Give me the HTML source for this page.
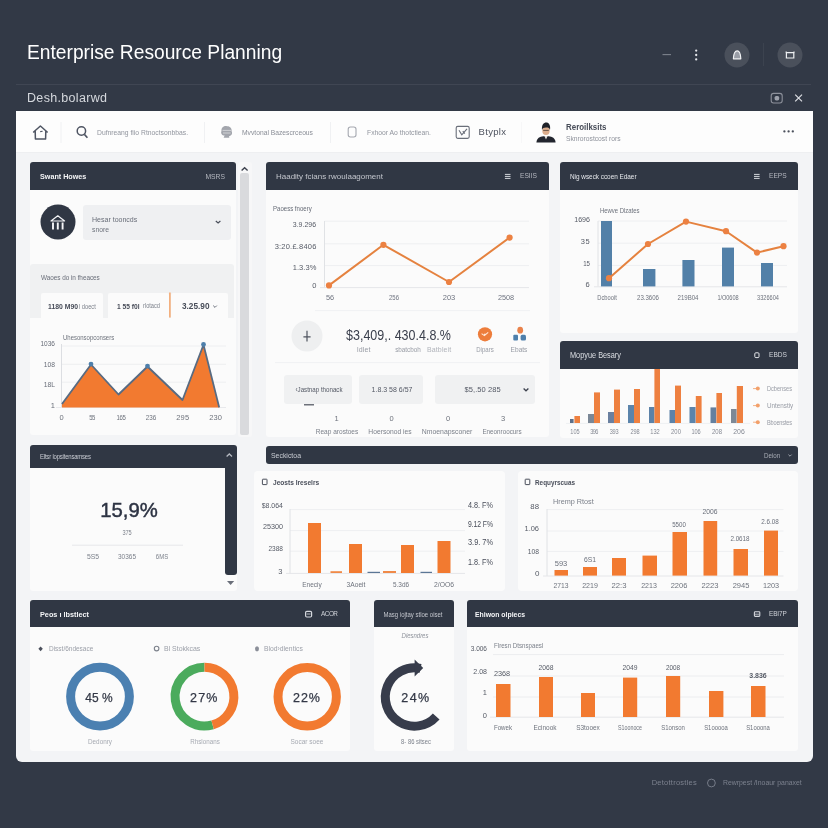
<!DOCTYPE html>
<html lang="en">
<head>
<meta charset="utf-8">
<title>Enterprise Resource Planning</title>
<style>
*{margin:0;padding:0;box-sizing:border-box}
html,body{width:828px;height:828px;overflow:hidden}
body{background:#323946;font-family:"Liberation Sans",sans-serif;position:relative}
.b{position:absolute}
.t{position:absolute;white-space:nowrap}
svg.g{position:absolute;left:0;top:0;width:828px;height:828px;overflow:visible}
</style>
</head>
<body>
<div class="b" style="left:16px;top:83.5px;width:795px;height:1.0px;background:rgba(255,255,255,0.07);border-radius:0;"></div>
<div class="b" style="left:16px;top:111px;width:797px;height:651.3px;background:#f3f4f6;border-radius:0 0 6px 6px;"></div>
<div class="b" style="left:16px;top:111px;width:797px;height:41.5px;background:#fdfdfd;border-radius:0;border-bottom:1px solid #eeeff1;"></div>
<div class="b" style="left:30px;top:162px;width:206.2px;height:273px;background:#fbfbfb;border-radius:3px;"></div>
<div class="b" style="left:30px;top:162px;width:206.2px;height:28px;background:#303744;border-radius:3px 3px 0 0;"></div>
<div class="b" style="left:83px;top:204.5px;width:147.5px;height:35.0px;background:#eff0f2;border-radius:3px;"></div>
<div class="b" style="left:30px;top:264px;width:203.5px;height:54px;background:#f0f1f2;border-radius:3px 3px 0 0;"></div>
<div class="b" style="left:41px;top:292.5px;width:62px;height:25.5px;background:#fbfbfb;border-radius:2px 2px 0 0;"></div>
<div class="b" style="left:108px;top:292.5px;width:61px;height:25.5px;background:#fbfbfb;border-radius:2px 2px 0 0;"></div>
<div class="b" style="left:171px;top:292.5px;width:56.5px;height:25.5px;background:#fbfbfb;border-radius:2px 2px 0 0;"></div>
<div class="b" style="left:237.5px;top:162px;width:14.0px;height:275px;background:#f7f7f8;border-radius:3px;"></div>
<div class="b" style="left:239.6px;top:173px;width:9.6px;height:262px;background:#d9dadd;border-radius:2px;"></div>
<div class="b" style="left:266px;top:162px;width:282.5px;height:275px;background:#fbfbfb;border-radius:3px;"></div>
<div class="b" style="left:266px;top:162px;width:282.5px;height:28px;background:#303744;border-radius:3px 3px 0 0;"></div>
<div class="b" style="left:284px;top:374.5px;width:68px;height:29.5px;background:#f0f1f2;border-radius:3px;"></div>
<div class="b" style="left:359px;top:374.5px;width:63.5px;height:29.5px;background:#f0f1f2;border-radius:3px;"></div>
<div class="b" style="left:434.5px;top:374.5px;width:100.5px;height:29.5px;background:#f0f1f2;border-radius:3px;"></div>
<div class="b" style="left:560px;top:162px;width:238px;height:170.5px;background:#fbfbfb;border-radius:3px;"></div>
<div class="b" style="left:560px;top:162px;width:238px;height:28px;background:#303744;border-radius:3px 3px 0 0;"></div>
<div class="b" style="left:560px;top:341px;width:238px;height:96.5px;background:#fbfbfb;border-radius:3px;"></div>
<div class="b" style="left:560px;top:341px;width:238px;height:28px;background:#303744;border-radius:3px 3px 0 0;"></div>
<div class="b" style="left:30px;top:444.5px;width:206.5px;height:146.5px;background:#fbfbfb;border-radius:3px;"></div>
<div class="b" style="left:30px;top:444.5px;width:206.5px;height:23.0px;background:#303744;border-radius:3px 3px 0 0;"></div>
<div class="b" style="left:225px;top:460px;width:11.5px;height:114.5px;background:#303744;border-radius:0 0 3px 3px;"></div>
<div class="b" style="left:265.5px;top:446px;width:532.5px;height:18.4px;background:#303744;border-radius:3px;"></div>
<div class="b" style="left:254px;top:471px;width:251px;height:120px;background:#fbfbfb;border-radius:4px;"></div>
<div class="b" style="left:518px;top:471px;width:280px;height:120px;background:#fbfbfb;border-radius:4px;"></div>
<div class="b" style="left:30px;top:600px;width:320px;height:151px;background:#fbfbfb;border-radius:3px;"></div>
<div class="b" style="left:30px;top:600px;width:320px;height:27px;background:#303744;border-radius:3px 3px 0 0;"></div>
<div class="b" style="left:374px;top:600px;width:80px;height:151px;background:#fbfbfb;border-radius:3px;"></div>
<div class="b" style="left:374px;top:600px;width:80px;height:27px;background:#303744;border-radius:3px 3px 0 0;"></div>
<div class="b" style="left:467px;top:600px;width:331px;height:151px;background:#fbfbfb;border-radius:3px;"></div>
<div class="b" style="left:467px;top:600px;width:331px;height:27px;background:#303744;border-radius:3px 3px 0 0;"></div>
<svg class="g" viewBox="0 0 828 828">
<line x1="662.5" y1="54.6" x2="671" y2="54.6" stroke="#7d828d" stroke-width="1.1" />
<circle cx="696.2" cy="50.6" r="1.15" fill="#e4e6ea" />
<circle cx="696.2" cy="55" r="1.15" fill="#e4e6ea" />
<circle cx="696.2" cy="59.4" r="1.15" fill="#e4e6ea" />
<circle cx="737" cy="55" r="12.5" fill="#4a505b" />
<path d="M733.4,58.8 C733.6,54 735,50.8 737.2,50.8 C739.4,50.8 740.6,54 740.8,58.8 Z" fill="#9a9ea7" stroke="#f2f3f5" stroke-width="1.2" stroke-linejoin="round"/>
<line x1="763.5" y1="43" x2="763.5" y2="66" stroke="rgba(255,255,255,0.05)" stroke-width="1" />
<circle cx="790" cy="55" r="12.5" fill="#4a505b" />
<path d="M786.4,52.6 h7.4 v5.4 h-7.4 Z M786.2,51.6 v1.4 M794,51.6 v1.4" fill="none" stroke="#eef0f2" stroke-width="1.2"/>
<rect x="771.2" y="93.4" width="11" height="9.6" rx="2.4" fill="none" stroke="#8d919b" stroke-width="1.1"/>
<rect x="774.6" y="96" width="4.6" height="4.4" rx="1.6" fill="#9da1ab"/>
<path d="M795.2,94.6 l6.8,6.8 M802,94.6 l-6.8,6.8" stroke="#dcdee3" stroke-width="1.2" fill="none"/>
<path d="M33.6,132 L40.4,126 L47.2,132 M35.2,131 L35.4,139 H45.6 L45.8,131" fill="none" stroke="#4f5563" stroke-width="1.5" stroke-linejoin="round" stroke-linecap="round"/>
<line x1="40.2" y1="131.6" x2="42.6" y2="131.2" stroke="#4f5563" stroke-width="1.1" />
<line x1="61" y1="122" x2="61" y2="143" stroke="#f0f1f3" stroke-width="1" />
<circle cx="81.4" cy="131" r="4.2" fill="none" stroke="#4f5563" stroke-width="1.5"/>
<line x1="84.4" y1="134.4" x2="87.4" y2="137.8" stroke="#4f5563" stroke-width="1.6" />
<line x1="204.5" y1="122" x2="204.5" y2="143" stroke="#f0f1f3" stroke-width="1" />
<path d="M221.5,131 C221,127.5 224.5,125.5 227,126.3 C230,126 232,128.5 231.6,131.3 C232.8,133.5 231.5,136 229,136.2 L229.4,137.8 L223.6,137.8 L224.6,135.6 C221.8,135.6 220.4,133 221.5,131 Z" fill="#a3a6ad"/>
<path d="M222.5,130.4 h8.6 M223,133 h7.6" stroke="#e4e5e8" stroke-width="0.7"/>
<line x1="330.5" y1="122" x2="330.5" y2="143" stroke="#f0f1f3" stroke-width="1" />
<rect x="348.2" y="127" width="7.8" height="10" rx="2.2" fill="none" stroke="#a5a8b0" stroke-width="1.1"/>
<rect x="456.2" y="126.4" width="13" height="12" rx="1.6" fill="none" stroke="#6a6f7a" stroke-width="1.1"/>
<path d="M459,130.2 l2.8,4.6 l5.2,-6 M462.8,131.2 l2,2.4" fill="none" stroke="#6a6f7a" stroke-width="1.1"/>
<line x1="521.5" y1="122" x2="521.5" y2="143" stroke="#f7f7f8" stroke-width="1" />
<path d="M536.4,142.4 C536.6,138 540,136.6 543.2,136.2 L548.8,136.2 C552,136.6 555.4,138 555.6,142.4 Z" fill="#23262f"/>
<path d="M544.4,136 L546,139.4 L547.6,136 Z" fill="#e9e4df"/>
<ellipse cx="546" cy="130.6" rx="3.7" ry="4.5" fill="#dcae8e"/>
<path d="M543.2,130.4 h5.6" stroke="#5a4a42" stroke-width="0.9"/>
<path d="M542,130 C541.4,125 543.8,122.6 546.2,122.6 C548.8,122.6 550.8,125.2 550,130 C549.4,127.8 548.6,127.4 546,127.4 C543.6,127.4 542.6,128 542,130 Z" fill="#1f2229"/>
<circle cx="784.4" cy="131.4" r="1.15" fill="#4a4f5b" />
<circle cx="788.6" cy="131.4" r="1.15" fill="#4a4f5b" />
<circle cx="792.8" cy="131.4" r="1.15" fill="#4a4f5b" />
<circle cx="58" cy="222" r="17.5" fill="#303744" />
<path d="M51,221 L57.8,215.8 L64.6,221 Z" fill="none" stroke="#f4f5f7" stroke-width="1.2" stroke-linejoin="round"/>
<path d="M53,222.4 V229.4 M57.8,222.4 V229.4 M62.6,222.4 V229.4" fill="none" stroke="#f4f5f7" stroke-width="1.9"/>
<path d="M215.8,221 l2.3,2 l2.3,-2" fill="none" stroke="#4a4f5b" stroke-width="1.2"/>
<rect x="169.2" y="292.5" width="1.4" height="25.0" fill="#f4a063" />
<path d="M213.2,305.6 l1.8,1.8 l1.8,-1.8" fill="none" stroke="#6a6f7a" stroke-width="1"/>
<line x1="61.5" y1="346" x2="226" y2="346" stroke="#eeeff1" stroke-width="1" />
<line x1="61.5" y1="364.3" x2="226" y2="364.3" stroke="#eeeff1" stroke-width="1" />
<line x1="61.5" y1="382.2" x2="226" y2="382.2" stroke="#eeeff1" stroke-width="1" />
<line x1="61.5" y1="344" x2="61.5" y2="407.5" stroke="#dcdee2" stroke-width="1" />
<line x1="56" y1="407.5" x2="226" y2="407.5" stroke="#e8e9ec" stroke-width="1" />
<polygon points="62,407.6 62,404 91,364.5 118.5,394.5 147.5,366.5 182.5,400 203.5,344.8 219.2,407.4" fill="#f27a30"/>
<polyline points="62,404 91,364.5 118.5,394.5 147.5,366.5 182.5,400 203.5,344.8 219.2,407.4" fill="none" stroke="#586b82" stroke-width="1.8" stroke-linejoin="round"/>
<circle cx="91" cy="364.1" r="2.4" fill="#4d7fab" />
<circle cx="147.5" cy="366.1" r="2.4" fill="#4d7fab" />
<circle cx="203.5" cy="344.40000000000003" r="2.4" fill="#4d7fab" />
<path d="M241.6,170.6 l3,-2.8 l3,2.8" fill="none" stroke="#3d424e" stroke-width="1.4"/>
<line x1="504.9" y1="174.4" x2="510.5" y2="174.4" stroke="#d4d7dd" stroke-width="1" />
<line x1="504.9" y1="176.4" x2="510.5" y2="176.4" stroke="#d4d7dd" stroke-width="1" />
<line x1="504.9" y1="178.4" x2="510.5" y2="178.4" stroke="#d4d7dd" stroke-width="1" />
<line x1="324.5" y1="221.2" x2="529" y2="221.2" stroke="#eeeff1" stroke-width="1" />
<line x1="324.5" y1="243.8" x2="529" y2="243.8" stroke="#eeeff1" stroke-width="1" />
<line x1="324.5" y1="265.6" x2="529" y2="265.6" stroke="#eeeff1" stroke-width="1" />
<line x1="324.5" y1="221" x2="324.5" y2="287.5" stroke="#e0e2e5" stroke-width="1" />
<line x1="320" y1="287.6" x2="529" y2="287.6" stroke="#e5e6e9" stroke-width="1" />
<polyline points="329,285.4 383.4,244.8 449,282 509.6,237.6" fill="none" stroke="#e5823f" stroke-width="2" stroke-linejoin="round"/>
<circle cx="329" cy="285.4" r="3.1" fill="#ec8142" />
<circle cx="383.4" cy="244.8" r="3.1" fill="#ec8142" />
<circle cx="449" cy="282" r="3.1" fill="#ec8142" />
<circle cx="509.6" cy="237.6" r="3.1" fill="#ec8142" />
<line x1="315" y1="310.6" x2="530" y2="310.6" stroke="#f0f1f3" stroke-width="1" />
<circle cx="307" cy="336" r="15.5" fill="#eeeff0" />
<path d="M307,330.8 V341.4 M303.4,336.8 H310.6" stroke="#4f545f" stroke-width="1.2" fill="none"/>
<circle cx="485" cy="334.3" r="7.1" fill="#ed7d3b" />
<path d="M481.6,333.6 l2.8,2 l3.8,-3.2 M484.4,335.6 l0.6,-2" fill="none" stroke="#ffe9da" stroke-width="1.1"/>
<ellipse cx="520.2" cy="330.2" rx="2.9" ry="3.4" fill="#e9824a"/>
<rect x="513.3" y="334.8" width="4.7" height="5.8" fill="#4d7fab" rx="1" />
<rect x="520.6" y="334.8" width="5.4" height="5.8" fill="#4d7fab" rx="1.6" />
<line x1="275" y1="362.6" x2="540" y2="362.6" stroke="#f0f1f3" stroke-width="1" />
<path d="M523.6,388.6 l2.4,2.2 l2.4,-2.2" fill="none" stroke="#3d424e" stroke-width="1.3"/>
<line x1="304" y1="404.8" x2="314" y2="404.8" stroke="#4a4f5b" stroke-width="1.2" />
<line x1="754.0" y1="174.4" x2="759.5999999999999" y2="174.4" stroke="#d4d7dd" stroke-width="1" />
<line x1="754.0" y1="176.4" x2="759.5999999999999" y2="176.4" stroke="#d4d7dd" stroke-width="1" />
<line x1="754.0" y1="178.4" x2="759.5999999999999" y2="178.4" stroke="#d4d7dd" stroke-width="1" />
<line x1="598" y1="221" x2="787" y2="221" stroke="#eeeff1" stroke-width="1" />
<line x1="598" y1="243.2" x2="787" y2="243.2" stroke="#eeeff1" stroke-width="1" />
<line x1="598" y1="265.4" x2="787" y2="265.4" stroke="#eeeff1" stroke-width="1" />
<line x1="598" y1="221" x2="598" y2="286.6" stroke="#e0e2e5" stroke-width="1" />
<line x1="594" y1="286.8" x2="787" y2="286.8" stroke="#e5e6e9" stroke-width="1" />
<rect x="601" y="221" width="11" height="65.4" fill="#5280a8" />
<rect x="643" y="269" width="12.4" height="17.4" fill="#5280a8" />
<rect x="682.4" y="260" width="12.1" height="26.4" fill="#5280a8" />
<rect x="722" y="247.6" width="12" height="38.8" fill="#5280a8" />
<rect x="761" y="263" width="12" height="23.4" fill="#5280a8" />
<polyline points="609,278.2 648,244 686,221.6 726,231.2 757,252.6 783.5,246.2" fill="none" stroke="#e5823f" stroke-width="2" stroke-linejoin="round"/>
<circle cx="609" cy="278.2" r="3.1" fill="#ec8142" />
<circle cx="648" cy="244" r="3.1" fill="#ec8142" />
<circle cx="686" cy="221.6" r="3.1" fill="#ec8142" />
<circle cx="726" cy="231.2" r="3.1" fill="#ec8142" />
<circle cx="757" cy="252.6" r="3.1" fill="#ec8142" />
<circle cx="783.5" cy="246.2" r="3.1" fill="#ec8142" />
<rect x="754.8" y="352.8" width="4.2" height="4.8" rx="1" fill="none" stroke="#e4e6ea" stroke-width="1"/>
<line x1="566" y1="423.4" x2="750" y2="423.4" stroke="#eef0f2" stroke-width="1" />
<rect x="570" y="419" width="3.6" height="4" fill="#5d6f88" />
<rect x="574.4" y="416" width="5.6" height="7" fill="#ee8040" />
<rect x="588" y="414" width="6" height="9" fill="#7a8796" />
<rect x="594" y="392.4" width="6" height="30.6" fill="#ee8040" />
<rect x="608" y="412" width="6" height="11" fill="#6a80a0" />
<rect x="614" y="389.6" width="6" height="33.4" fill="#ee8040" />
<rect x="628" y="405" width="6" height="18" fill="#5b84ab" />
<rect x="634" y="389" width="6" height="34" fill="#ee8040" />
<rect x="649" y="407" width="5.4" height="16" fill="#5c82a8" />
<rect x="654.4" y="369" width="5.6" height="54" fill="#ee8040" />
<rect x="669.5" y="410" width="5.5" height="13" fill="#5c82a8" />
<rect x="675" y="385.6" width="6" height="37.4" fill="#ee8040" />
<rect x="689.5" y="407" width="6.1" height="16" fill="#5b84ab" />
<rect x="695.8" y="396" width="5.8" height="27" fill="#ee8040" />
<rect x="710.5" y="407.4" width="5.7" height="15.6" fill="#64809f" />
<rect x="716.4" y="393" width="5.6" height="30" fill="#ee8040" />
<rect x="731" y="409" width="5.6" height="14" fill="#7d8896" />
<rect x="736.8" y="386" width="6.2" height="37" fill="#ee8040" />
<line x1="753" y1="388.6" x2="757" y2="388.6" stroke="#f4b085" stroke-width="1" />
<circle cx="757.8" cy="388.6" r="2" fill="#f2a06a" />
<line x1="753" y1="405.6" x2="757" y2="405.6" stroke="#f4b085" stroke-width="1" />
<circle cx="757.8" cy="405.6" r="2" fill="#f2a06a" />
<line x1="753" y1="422.2" x2="757" y2="422.2" stroke="#f4b085" stroke-width="1" />
<circle cx="757.8" cy="422.2" r="2" fill="#f2a06a" />
<path d="M226.6,456.4 l2.7,-2.5 l2.7,2.5" fill="none" stroke="#b4b8c0" stroke-width="1.3"/>
<path d="M227,581 h7.2 l-3.6,4 Z" fill="#6a6f7a"/>
<line x1="72" y1="545.2" x2="183" y2="545.2" stroke="#e6e7ea" stroke-width="1" />
<path d="M788.4,454.6 l1.6,1.6 l1.6,-1.6" fill="none" stroke="#a7abb4" stroke-width="0.9"/>
<rect x="262.4" y="479.2" width="4.6" height="5.4" rx="0.5" fill="none" stroke="#4a4f5b" stroke-width="1"/>
<line x1="290" y1="509.6" x2="465" y2="509.6" stroke="#eeeff1" stroke-width="1" />
<line x1="290" y1="530.6" x2="465" y2="530.6" stroke="#eeeff1" stroke-width="1" />
<line x1="290" y1="551.2" x2="465" y2="551.2" stroke="#eeeff1" stroke-width="1" />
<line x1="290" y1="509" x2="290" y2="573.4" stroke="#e0e2e5" stroke-width="1" />
<line x1="286" y1="573.4" x2="465" y2="573.4" stroke="#e5e6e9" stroke-width="1" />
<rect x="308" y="523" width="13" height="50" fill="#f27a30" />
<rect x="330.5" y="571.2" width="11.5" height="1.8" fill="#f08a48" />
<rect x="349" y="544" width="13" height="29" fill="#f27a30" />
<rect x="367.5" y="571.8" width="12.5" height="1.2" fill="#5b7695" />
<rect x="383" y="571" width="13" height="2" fill="#f08a48" />
<rect x="401" y="545" width="13" height="28" fill="#f27a30" />
<rect x="420.5" y="571.8" width="11.5" height="1.2" fill="#5b7695" />
<rect x="437.5" y="541" width="13.0" height="32" fill="#f27a30" />
<rect x="525.2" y="479.2" width="4.6" height="5.4" rx="0.5" fill="none" stroke="#4a4f5b" stroke-width="1"/>
<line x1="547" y1="509.6" x2="783.5" y2="509.6" stroke="#eeeff1" stroke-width="1" />
<line x1="547" y1="531" x2="783.5" y2="531" stroke="#eeeff1" stroke-width="1" />
<line x1="547" y1="551.4" x2="783.5" y2="551.4" stroke="#eeeff1" stroke-width="1" />
<line x1="547" y1="509" x2="547" y2="576" stroke="#e0e2e5" stroke-width="1" />
<line x1="543" y1="576" x2="783.5" y2="576" stroke="#e5e6e9" stroke-width="1" />
<rect x="554.5" y="570" width="13.5" height="5.6" fill="#f27a30" />
<rect x="583" y="567" width="14" height="8.6" fill="#f27a30" />
<rect x="612" y="558" width="14" height="17.6" fill="#f27a30" />
<rect x="642.5" y="555.6" width="14.5" height="20.0" fill="#f27a30" />
<rect x="672.5" y="532" width="14.5" height="43.6" fill="#f27a30" />
<rect x="703.5" y="521" width="13.7" height="54.6" fill="#f27a30" />
<rect x="733.5" y="549" width="14.5" height="26.6" fill="#f27a30" />
<rect x="764" y="530.6" width="14" height="45.0" fill="#f27a30" />
<rect x="305.6" y="611.4" width="6" height="5.6" rx="1.2" fill="none" stroke="#d4d7dd" stroke-width="1.2"/>
<line x1="306.6" y1="614" x2="310.6" y2="614" stroke="#d4d7dd" stroke-width="0.8" />
<path d="M40.6,646.4 l2.2,2.4 l-2.2,2.4 l-2.2,-2.4 Z" fill="#4a4f5b"/>
<circle cx="156.6" cy="648.6" r="2.3" fill="none" stroke="#7d828c" stroke-width="1.1"/>
<ellipse cx="257" cy="648.8" rx="2" ry="2.6" fill="#8b8f99"/>
<circle cx="100" cy="696.6" r="29.4" fill="none" stroke="#4b80b1" stroke-width="9"/>
<path d="M212.60,724.86 A29.4,29.4 0 1 1 204.50,667.20" fill="none" stroke="#4bab5d" stroke-width="9" />
<path d="M204.50,667.20 A29.4,29.4 0 0 1 212.60,724.86" fill="none" stroke="#f27a30" stroke-width="9" />
<circle cx="307.2" cy="696.8" r="29.2" fill="none" stroke="#f27a30" stroke-width="9"/>
<path d="M436.20,716.54 A29.2,29.2 0 1 1 420.57,668.44" fill="none" stroke="#373c4b" stroke-width="9" />
<path d="M414.6,659.6 L423.2,668 L414.6,676.6 Z" fill="#373c4b"/>
<rect x="754.4" y="611.8" width="5.4" height="4.6" rx="0.8" fill="none" stroke="#d4d7dd" stroke-width="1.1"/>
<line x1="755" y1="614.2" x2="759.4" y2="614.2" stroke="#d4d7dd" stroke-width="0.8" />
<line x1="493" y1="654.6" x2="784" y2="654.6" stroke="#ecedef" stroke-width="1" />
<line x1="493" y1="676" x2="784" y2="676" stroke="#ecedef" stroke-width="1" />
<line x1="493" y1="697" x2="784" y2="697" stroke="#ecedef" stroke-width="1" />
<line x1="490" y1="717.2" x2="784" y2="717.2" stroke="#e5e6e9" stroke-width="1" />
<rect x="496" y="684" width="14.5" height="33" fill="#f27a30" />
<rect x="539" y="677" width="14" height="40" fill="#f27a30" />
<rect x="581" y="693" width="14" height="24" fill="#f27a30" />
<rect x="623" y="677.6" width="14.2" height="39.4" fill="#f27a30" />
<rect x="666" y="676" width="14.2" height="41" fill="#f27a30" />
<rect x="709" y="691" width="14.4" height="26" fill="#f27a30" />
<rect x="751" y="686" width="14.5" height="31" fill="#f27a30" />
<circle cx="711.4" cy="783" r="3.9" fill="none" stroke="#7d828e" stroke-width="0.9"/>
</svg>
<h1 class="t" style="left:27px;top:41.3px;font-size:20px;line-height:22px;color:#ffffff;transform-origin:left center;transform:scaleX(0.96);font-weight:400;">Enterprise Resource Planning</h1>
<div class="t" style="left:27px;top:91.25px;font-size:12.5px;line-height:14.5px;color:#d6d9de;letter-spacing:0.324px;">Desh.bolarwd</div>
<div class="t" style="left:97px;top:127.6px;font-size:8px;line-height:10px;color:#91959e;transform-origin:left center;transform:scaleX(0.846);">Dufnreang fiio Rtnoctsonbbas.</div>
<div class="t" style="left:242px;top:127.6px;font-size:8px;line-height:10px;color:#8a8e97;transform-origin:left center;transform:scaleX(0.84);">Mvvtonal Bazescrceous</div>
<div class="t" style="left:367px;top:127.6px;font-size:8px;line-height:10px;color:#91959e;transform-origin:left center;transform:scaleX(0.846);">Fxhoor Ao thotctiean.</div>
<div class="t" style="left:478.5px;top:125.85px;font-size:9.5px;line-height:11.5px;color:#4d525e;letter-spacing:0.325px;">Btyplx</div>
<div class="t" style="left:565.5px;top:121.75px;font-size:8.5px;line-height:10.5px;color:#474c58;font-weight:700;transform-origin:left center;transform:scaleX(0.932);">Reroilksits</div>
<div class="t" style="left:565.5px;top:133.65px;font-size:7.5px;line-height:9.5px;color:#8e929b;transform-origin:left center;transform:scaleX(0.896);">Sknrorostcost rors</div>
<div class="t" style="left:39.5px;top:171.5px;font-size:8px;line-height:10px;color:#f4f5f7;font-weight:700;transform-origin:left center;transform:scaleX(0.898);">Swant Howes</div>
<div class="t" style="left:225px;top:171.5px;font-size:8px;line-height:10px;color:#b4b7bf;transform-origin:right center;transform:translateX(-100%) scaleX(0.843);">MSRS</div>
<div class="t" style="left:91.7px;top:214.5px;font-size:8px;line-height:10px;color:#686d78;transform-origin:left center;transform:scaleX(0.878);">Hesar tooncds</div>
<div class="t" style="left:91.7px;top:224.7px;font-size:8px;line-height:10px;color:#6e737d;transform-origin:left center;transform:scaleX(0.849);">snore</div>
<div class="t" style="left:40.7px;top:273.0px;font-size:8px;line-height:10px;color:#686d78;transform-origin:left center;transform:scaleX(0.8);letter-spacing:-0.051px;">Waoes do in fheaces</div>
<div class="t" style="left:47.5px;top:301.65px;font-size:7.5px;line-height:9.5px;color:#474c58;font-weight:700;transform-origin:left center;transform:scaleX(0.91);">1180 M90</div>
<div class="t" style="left:78.7px;top:302.1px;font-size:7px;line-height:9px;color:#7c818b;transform-origin:left center;transform:scaleX(0.815);">l doect</div>
<div class="t" style="left:116.7px;top:301.65px;font-size:7.5px;line-height:9.5px;color:#474c58;font-weight:700;transform-origin:left center;transform:scaleX(0.885);">1 55 f0l</div>
<div class="t" style="left:143px;top:302.35px;font-size:6.5px;line-height:8.5px;color:#7c818b;transform-origin:left center;transform:scaleX(0.871);">rlotacd</div>
<div class="t" style="left:182px;top:301.15px;font-size:8.5px;line-height:10.5px;color:#474c58;font-weight:700;transform-origin:left center;transform:scaleX(0.969);">3.25.90</div>
<div class="t" style="left:62.5px;top:333.05px;font-size:7.5px;line-height:9.5px;color:#6e737d;transform-origin:left center;transform:scaleX(0.8);letter-spacing:-0.015px;">Uhesonsopconsers</div>
<div class="t" style="left:54.8px;top:339.25px;font-size:7.5px;line-height:9.5px;color:#686d78;transform-origin:right center;transform:translateX(-100%) scaleX(0.869);">1036</div>
<div class="t" style="left:54.8px;top:359.85px;font-size:7.5px;line-height:9.5px;color:#686d78;transform-origin:right center;transform:translateX(-100%) scaleX(0.895);">108</div>
<div class="t" style="left:54.8px;top:380.25px;font-size:7.5px;line-height:9.5px;color:#686d78;transform-origin:right center;transform:translateX(-100%) scaleX(0.903);">18L</div>
<div class="t" style="left:54.8px;top:400.65px;font-size:7.5px;line-height:9.5px;color:#686d78;transform:translateX(-100%);">1</div>
<div class="t" style="left:61.5px;top:412.85px;font-size:7.5px;line-height:9.5px;color:#6e737d;transform:translateX(-50%);">0</div>
<div class="t" style="left:91.66px;top:412.85px;font-size:7.5px;line-height:9.5px;color:#6e737d;transform-origin:center center;transform:translateX(-50%) scaleX(0.8);letter-spacing:-0.594px;">55</div>
<div class="t" style="left:120.87px;top:412.85px;font-size:7.5px;line-height:9.5px;color:#6e737d;transform-origin:center center;transform:translateX(-50%) scaleX(0.8);letter-spacing:-0.32px;">165</div>
<div class="t" style="left:151px;top:412.85px;font-size:7.5px;line-height:9.5px;color:#6e737d;transform-origin:center center;transform:translateX(-50%) scaleX(0.839);">236</div>
<div class="t" style="left:182.82px;top:412.85px;font-size:7.5px;line-height:9.5px;color:#6e737d;transform:translateX(-50%);letter-spacing:0.242px;">295</div>
<div class="t" style="left:215.67px;top:412.85px;font-size:7.5px;line-height:9.5px;color:#6e737d;transform:translateX(-50%);letter-spacing:0.142px;">230</div>
<div class="t" style="left:275.5px;top:171.6px;font-size:8px;line-height:10px;color:#c3c6cd;transform-origin:left center;transform:scaleX(0.998);">Haadity fcians rwoulaagoment</div>
<div class="t" style="left:519.7px;top:171.3px;font-size:8px;line-height:10px;color:#b4b7bf;transform-origin:left center;transform:scaleX(0.831);">ESIIS</div>
<div class="t" style="left:272.5px;top:204.05px;font-size:7.5px;line-height:9.5px;color:#666b76;transform-origin:left center;transform:scaleX(0.807);">Paoess fnoery</div>
<div class="t" style="left:316.4px;top:219.65px;font-size:7.5px;line-height:9.5px;color:#565b66;transform-origin:right center;transform:translateX(-100%) scaleX(0.927);">3.9.296</div>
<div class="t" style="left:316.61px;top:242.25px;font-size:7.5px;line-height:9.5px;color:#565b66;transform:translateX(-100%);letter-spacing:0.208px;">3:20.£.8406</div>
<div class="t" style="left:316.47px;top:262.85px;font-size:7.5px;line-height:9.5px;color:#565b66;transform:translateX(-100%);letter-spacing:0.068px;">1.3.3%</div>
<div class="t" style="left:316.4px;top:281.25px;font-size:7.5px;line-height:9.5px;color:#565b66;transform:translateX(-100%);">0</div>
<div class="t" style="left:329.6px;top:292.85px;font-size:7.5px;line-height:9.5px;color:#6f7480;transform-origin:center center;transform:translateX(-50%) scaleX(0.983);">56</div>
<div class="t" style="left:393.7px;top:292.85px;font-size:7.5px;line-height:9.5px;color:#6f7480;transform-origin:center center;transform:translateX(-50%) scaleX(0.8);letter-spacing:-0.008px;">256</div>
<div class="t" style="left:449.2px;top:292.85px;font-size:7.5px;line-height:9.5px;color:#6f7480;transform-origin:center center;transform:translateX(-50%) scaleX(0.999);">203</div>
<div class="t" style="left:506.1px;top:292.85px;font-size:7.5px;line-height:9.5px;color:#6f7480;transform-origin:center center;transform:translateX(-50%) scaleX(0.971);">2508</div>
<div class="t" style="left:346.2px;top:326.8px;font-size:14px;line-height:16px;color:#3a3f4c;transform-origin:left center;transform:scaleX(0.893);">$3,409,. 430.4.8.%</div>
<div class="t" style="left:363.78px;top:345.1px;font-size:7px;line-height:9px;color:#989ca5;transform:translateX(-50%);letter-spacing:0.164px;">ldlet</div>
<div class="t" style="left:407.9px;top:345.1px;font-size:7px;line-height:9px;color:#989ca5;transform-origin:center center;transform:translateX(-50%) scaleX(0.904);">sbatcboh</div>
<div class="t" style="left:439.16px;top:345.1px;font-size:7px;line-height:9px;color:#b1b4bb;transform:translateX(-50%);letter-spacing:0.12px;">Batbleit</div>
<div class="t" style="left:484.5px;top:345.2px;font-size:7px;line-height:9px;color:#989ca5;transform-origin:center center;transform:translateX(-50%) scaleX(0.865);">Dipars</div>
<div class="t" style="left:519.1px;top:345.2px;font-size:7px;line-height:9px;color:#989ca5;transform-origin:center center;transform:translateX(-50%) scaleX(0.938);">Ebats</div>
<div class="t" style="left:318.5px;top:384.85px;font-size:7.5px;line-height:9.5px;color:#545965;transform-origin:center center;transform:translateX(-50%) scaleX(0.823);">‹Jastnap thonack</div>
<div class="t" style="left:391.6px;top:384.85px;font-size:7.5px;line-height:9.5px;color:#545965;transform-origin:center center;transform:translateX(-50%) scaleX(0.932);">1.8.3 58 6/57</div>
<div class="t" style="left:482.64px;top:384.85px;font-size:7.5px;line-height:9.5px;color:#545965;transform:translateX(-50%);letter-spacing:0.083px;">$5,.50 285</div>
<div class="t" style="left:336.5px;top:413.85px;font-size:7.5px;line-height:9.5px;color:#6e737d;transform:translateX(-50%);">1</div>
<div class="t" style="left:391.5px;top:413.85px;font-size:7.5px;line-height:9.5px;color:#6e737d;transform:translateX(-50%);">0</div>
<div class="t" style="left:448px;top:413.85px;font-size:7.5px;line-height:9.5px;color:#6e737d;transform:translateX(-50%);">0</div>
<div class="t" style="left:503px;top:413.85px;font-size:7.5px;line-height:9.5px;color:#6e737d;transform:translateX(-50%);">3</div>
<div class="t" style="left:336.7px;top:426.85px;font-size:7.5px;line-height:9.5px;color:#7c818b;transform-origin:center center;transform:translateX(-50%) scaleX(0.871);">Reap arostoes</div>
<div class="t" style="left:390.4px;top:426.85px;font-size:7.5px;line-height:9.5px;color:#7c818b;transform-origin:center center;transform:translateX(-50%) scaleX(0.895);">Hoersonod ies</div>
<div class="t" style="left:447.2px;top:426.85px;font-size:7.5px;line-height:9.5px;color:#7c818b;transform-origin:center center;transform:translateX(-50%) scaleX(0.918);">Nmoenapsconer</div>
<div class="t" style="left:501.6px;top:426.85px;font-size:7.5px;line-height:9.5px;color:#7c818b;transform-origin:center center;transform:translateX(-50%) scaleX(0.839);">Eneonroocurs</div>
<div class="t" style="left:569.5px;top:171.6px;font-size:8px;line-height:10px;color:#e6e8ec;transform-origin:left center;transform:scaleX(0.8);letter-spacing:-0.023px;">Nig wseck ccoen Edaer</div>
<div class="t" style="left:769px;top:171.3px;font-size:8px;line-height:10px;color:#b4b7bf;transform-origin:left center;transform:scaleX(0.829);">EEPS</div>
<div class="t" style="left:600px;top:205.85px;font-size:7.5px;line-height:9.5px;color:#6e737d;transform-origin:left center;transform:scaleX(0.8);letter-spacing:-0.055px;">Hewve Dlzates</div>
<div class="t" style="left:589.7px;top:215.25px;font-size:7.5px;line-height:9.5px;color:#565b66;transform-origin:right center;transform:translateX(-100%) scaleX(0.947);">1696</div>
<div class="t" style="left:590.36px;top:236.85px;font-size:7.5px;line-height:9.5px;color:#565b66;transform:translateX(-100%);letter-spacing:0.656px;">35</div>
<div class="t" style="left:589.7px;top:259.25px;font-size:7.5px;line-height:9.5px;color:#565b66;transform-origin:right center;transform:translateX(-100%) scaleX(0.815);">15</div>
<div class="t" style="left:589.7px;top:280.45px;font-size:7.5px;line-height:9.5px;color:#565b66;transform:translateX(-100%);">6</div>
<div class="t" style="left:607.2px;top:293.1px;font-size:7px;line-height:9px;color:#6e737d;transform-origin:center center;transform:translateX(-50%) scaleX(0.822);">Dcbooit</div>
<div class="t" style="left:647.9px;top:293.1px;font-size:7px;line-height:9px;color:#6e737d;transform-origin:center center;transform:translateX(-50%) scaleX(0.869);">23.3606</div>
<div class="t" style="left:688px;top:293.1px;font-size:7px;line-height:9px;color:#6e737d;transform-origin:center center;transform:translateX(-50%) scaleX(0.87);">219B04</div>
<div class="t" style="left:727.96px;top:293.1px;font-size:7px;line-height:9px;color:#6e737d;transform-origin:center center;transform:translateX(-50%) scaleX(0.8);letter-spacing:-0.102px;">1/O0608</div>
<div class="t" style="left:767.6px;top:293.1px;font-size:7px;line-height:9px;color:#6e737d;transform-origin:center center;transform:translateX(-50%) scaleX(0.8);letter-spacing:-0.003px;">3326604</div>
<div class="t" style="left:570px;top:350.15px;font-size:8.5px;line-height:10.5px;color:#dcdfe4;transform-origin:left center;transform:scaleX(0.863);">Mopyue Besary</div>
<div class="t" style="left:769px;top:350.3px;font-size:8px;line-height:10px;color:#d0d3d9;transform-origin:left center;transform:scaleX(0.826);">EBDS</div>
<div class="t" style="left:575.39px;top:426.5px;font-size:7px;line-height:9px;color:#868a94;transform-origin:center center;transform:translateX(-50%) scaleX(0.8);letter-spacing:-0.031px;">105</div>
<div class="t" style="left:594.31px;top:426.5px;font-size:7px;line-height:9px;color:#868a94;transform-origin:center center;transform:translateX(-50%) scaleX(0.8);letter-spacing:-0.719px;">396</div>
<div class="t" style="left:614.26px;top:426.5px;font-size:7px;line-height:9px;color:#868a94;transform-origin:center center;transform:translateX(-50%) scaleX(0.8);letter-spacing:-0.344px;">393</div>
<div class="t" style="left:634.91px;top:426.5px;font-size:7px;line-height:9px;color:#868a94;transform-origin:center center;transform:translateX(-50%) scaleX(0.8);letter-spacing:-0.219px;">298</div>
<div class="t" style="left:655.2px;top:426.5px;font-size:7px;line-height:9px;color:#868a94;transform-origin:center center;transform:translateX(-50%) scaleX(0.813);">132</div>
<div class="t" style="left:675.6px;top:426.5px;font-size:7px;line-height:9px;color:#868a94;transform-origin:center center;transform:translateX(-50%) scaleX(0.839);">200</div>
<div class="t" style="left:696.11px;top:426.5px;font-size:7px;line-height:9px;color:#868a94;transform-origin:center center;transform:translateX(-50%) scaleX(0.8);letter-spacing:-0.219px;">106</div>
<div class="t" style="left:717px;top:426.5px;font-size:7px;line-height:9px;color:#868a94;transform-origin:center center;transform:translateX(-50%) scaleX(0.856);">208</div>
<div class="t" style="left:738.7px;top:426.5px;font-size:7px;line-height:9px;color:#868a94;transform-origin:center center;transform:translateX(-50%) scaleX(0.984);">206</div>
<div class="t" style="left:767.2px;top:384.1px;font-size:7px;line-height:9px;color:#989ca5;transform-origin:left center;transform:scaleX(0.803);">Dcbenses</div>
<div class="t" style="left:767.2px;top:401.1px;font-size:7px;line-height:9px;color:#989ca5;transform-origin:left center;transform:scaleX(0.898);">Untenstiy</div>
<div class="t" style="left:767.2px;top:417.7px;font-size:7px;line-height:9px;color:#989ca5;transform-origin:left center;transform:scaleX(0.8);letter-spacing:-0.23px;">Bboenstes</div>
<div class="t" style="left:40px;top:451.85px;font-size:7.5px;line-height:9.5px;color:#c9ccd3;transform-origin:left center;transform:scaleX(0.8);letter-spacing:-0.265px;">Eltsr lopsitensamses</div>
<div class="t" style="left:128.7px;top:497.5px;font-size:21px;line-height:23px;color:#2d3343;transform-origin:center center;transform:translateX(-50%) scaleX(0.966);-webkit-text-stroke:0.45px #2d3343;">15,9%</div>
<div class="t" style="left:127.06px;top:527.7px;font-size:7px;line-height:9px;color:#7c818b;transform-origin:center center;transform:translateX(-50%) scaleX(0.8);letter-spacing:-0.094px;">375</div>
<div class="t" style="left:93.1px;top:552.3px;font-size:7px;line-height:9px;color:#7c818b;transform-origin:center center;transform:translateX(-50%) scaleX(0.978);">5S5</div>
<div class="t" style="left:127.2px;top:552.3px;font-size:7px;line-height:9px;color:#7c818b;transform-origin:center center;transform:translateX(-50%) scaleX(0.925);">30365</div>
<div class="t" style="left:161.9px;top:552.3px;font-size:7px;line-height:9px;color:#7c818b;transform-origin:center center;transform:translateX(-50%) scaleX(0.854);">6MS</div>
<div class="t" style="left:271.2px;top:450.65px;font-size:7.5px;line-height:9.5px;color:#c9ccd3;transform-origin:left center;transform:scaleX(0.922);">Seckictoa</div>
<div class="t" style="left:763.5px;top:450.65px;font-size:7.5px;line-height:9.5px;color:#a7abb4;transform-origin:left center;transform:scaleX(0.826);">Deion</div>
<div class="t" style="left:272.5px;top:478.25px;font-size:7.5px;line-height:9.5px;color:#4a4f5b;font-weight:700;transform-origin:left center;transform:scaleX(0.879);">Jeosts Ireselrs</div>
<div class="t" style="left:282.5px;top:501.25px;font-size:7.5px;line-height:9.5px;color:#565b66;transform-origin:right center;transform:translateX(-100%) scaleX(0.928);">$8.064</div>
<div class="t" style="left:282.5px;top:522.45px;font-size:7.5px;line-height:9.5px;color:#565b66;transform-origin:right center;transform:translateX(-100%) scaleX(0.959);">25300</div>
<div class="t" style="left:282.5px;top:544.25px;font-size:7.5px;line-height:9.5px;color:#565b66;transform-origin:right center;transform:translateX(-100%) scaleX(0.869);">2388</div>
<div class="t" style="left:282.5px;top:566.85px;font-size:7.5px;line-height:9.5px;color:#565b66;transform:translateX(-100%);">3</div>
<div class="t" style="left:311.5px;top:579.5px;font-size:7px;line-height:9px;color:#6e737d;transform-origin:center center;transform:translateX(-50%) scaleX(0.928);">Eneciy</div>
<div class="t" style="left:355.6px;top:579.5px;font-size:7px;line-height:9px;color:#6e737d;transform-origin:center center;transform:translateX(-50%) scaleX(0.947);">3Aoeit</div>
<div class="t" style="left:400.6px;top:579.5px;font-size:7px;line-height:9px;color:#6e737d;transform-origin:center center;transform:translateX(-50%) scaleX(0.924);">5.3d6</div>
<div class="t" style="left:443.7px;top:579.5px;font-size:7px;line-height:9px;color:#6e737d;transform-origin:center center;transform:translateX(-50%) scaleX(0.97);">2/OO6</div>
<div class="t" style="left:468px;top:499.75px;font-size:8.5px;line-height:10.5px;color:#474c58;transform-origin:left center;transform:scaleX(0.853);">4.8. F%</div>
<div class="t" style="left:468px;top:518.75px;font-size:8.5px;line-height:10.5px;color:#474c58;transform-origin:left center;transform:scaleX(0.8);letter-spacing:-0.068px;">9.12 F%</div>
<div class="t" style="left:468px;top:536.75px;font-size:8.5px;line-height:10.5px;color:#474c58;transform-origin:left center;transform:scaleX(0.867);">3.9. 7%</div>
<div class="t" style="left:468px;top:556.75px;font-size:8.5px;line-height:10.5px;color:#474c58;transform-origin:left center;transform:scaleX(0.853);">1.8. F%</div>
<div class="t" style="left:535px;top:478.25px;font-size:7.5px;line-height:9.5px;color:#4a4f5b;font-weight:700;transform-origin:left center;transform:scaleX(0.849);">Requyrscuas</div>
<div class="t" style="left:553px;top:497.25px;font-size:7.5px;line-height:9.5px;color:#7c818b;transform-origin:left center;transform:scaleX(0.967);">Hremp Rtost</div>
<div class="t" style="left:539.4px;top:502.0px;font-size:8px;line-height:10px;color:#565b66;transform-origin:right center;transform:translateX(-100%) scaleX(0.977);">88</div>
<div class="t" style="left:539.4px;top:524.2px;font-size:8px;line-height:10px;color:#565b66;transform-origin:right center;transform:translateX(-100%) scaleX(0.931);">1.06</div>
<div class="t" style="left:539.4px;top:546.6px;font-size:8px;line-height:10px;color:#565b66;transform-origin:right center;transform:translateX(-100%) scaleX(0.838);">108</div>
<div class="t" style="left:539.4px;top:569.4px;font-size:8px;line-height:10px;color:#565b66;transform:translateX(-100%);">0</div>
<div class="t" style="left:561.2px;top:558.65px;font-size:7.5px;line-height:9.5px;color:#6a6f7a;transform-origin:center center;transform:translateX(-50%) scaleX(0.999);">593</div>
<div class="t" style="left:590.2px;top:555.25px;font-size:7.5px;line-height:9.5px;color:#6a6f7a;transform-origin:center center;transform:translateX(-50%) scaleX(0.898);">6S1</div>
<div class="t" style="left:679.4px;top:520.25px;font-size:7.5px;line-height:9.5px;color:#6a6f7a;transform-origin:center center;transform:translateX(-50%) scaleX(0.821);">5500</div>
<div class="t" style="left:709.7px;top:507.25px;font-size:7.5px;line-height:9.5px;color:#6a6f7a;transform-origin:center center;transform:translateX(-50%) scaleX(0.899);">2006</div>
<div class="t" style="left:740.1px;top:534.25px;font-size:7.5px;line-height:9.5px;color:#6a6f7a;transform-origin:center center;transform:translateX(-50%) scaleX(0.836);">2.0618</div>
<div class="t" style="left:769.7px;top:517.25px;font-size:7.5px;line-height:9.5px;color:#6a6f7a;transform-origin:center center;transform:translateX(-50%) scaleX(0.839);">2.6.08</div>
<div class="t" style="left:560.5px;top:581.2px;font-size:8px;line-height:10px;color:#6e737d;transform-origin:center center;transform:translateX(-50%) scaleX(0.843);">2713</div>
<div class="t" style="left:589.6px;top:581.2px;font-size:8px;line-height:10px;color:#6e737d;transform-origin:center center;transform:translateX(-50%) scaleX(0.882);">2219</div>
<div class="t" style="left:618.7px;top:581.2px;font-size:8px;line-height:10px;color:#6e737d;transform-origin:center center;transform:translateX(-50%) scaleX(0.963);">22:3</div>
<div class="t" style="left:649px;top:581.2px;font-size:8px;line-height:10px;color:#6e737d;transform-origin:center center;transform:translateX(-50%) scaleX(0.882);">2213</div>
<div class="t" style="left:679.1px;top:581.2px;font-size:8px;line-height:10px;color:#6e737d;transform-origin:center center;transform:translateX(-50%) scaleX(0.938);">2206</div>
<div class="t" style="left:709.5px;top:581.2px;font-size:8px;line-height:10px;color:#6e737d;transform-origin:center center;transform:translateX(-50%) scaleX(0.955);">2223</div>
<div class="t" style="left:740.6px;top:581.2px;font-size:8px;line-height:10px;color:#6e737d;transform-origin:center center;transform:translateX(-50%) scaleX(0.938);">2945</div>
<div class="t" style="left:770.9px;top:581.2px;font-size:8px;line-height:10px;color:#6e737d;transform-origin:center center;transform:translateX(-50%) scaleX(0.91);">1203</div>
<div class="t" style="left:39.5px;top:609.7px;font-size:8px;line-height:10px;color:#f4f5f7;font-weight:700;transform-origin:left center;transform:scaleX(0.911);">Peos ı lbstlect</div>
<div class="t" style="left:320.5px;top:609.4px;font-size:8px;line-height:10px;color:#d0d3d9;transform-origin:left center;transform:scaleX(0.8);letter-spacing:-0.625px;">ACOR</div>
<div class="t" style="left:48.7px;top:644.3px;font-size:7px;line-height:9px;color:#9b9fa8;transform-origin:left center;transform:scaleX(0.926);">Disst/6ndesace</div>
<div class="t" style="left:163.7px;top:644.3px;font-size:7px;line-height:9px;color:#9b9fa8;transform-origin:left center;transform:scaleX(0.992);">Bl Stokkcas</div>
<div class="t" style="left:263.7px;top:644.3px;font-size:7px;line-height:9px;color:#9b9fa8;transform-origin:left center;transform:scaleX(0.968);">Blod›dlentics</div>
<div class="t" style="left:99.4px;top:690.55px;font-size:12.5px;line-height:14.5px;color:#333846;transform-origin:center center;transform:translateX(-50%) scaleX(0.958);-webkit-text-stroke:0.25px #333846;">45 %</div>
<div class="t" style="left:204.32px;top:690.55px;font-size:12.5px;line-height:14.5px;color:#333846;transform:translateX(-50%);letter-spacing:1.234px;-webkit-text-stroke:0.25px #333846;">27%</div>
<div class="t" style="left:306.99px;top:690.55px;font-size:12.5px;line-height:14.5px;color:#333846;transform:translateX(-50%);letter-spacing:0.984px;-webkit-text-stroke:0.25px #333846;">22%</div>
<div class="t" style="left:100px;top:737.1px;font-size:7px;line-height:9px;color:#a6aab2;transform-origin:center center;transform:translateX(-50%) scaleX(0.907);">Dedonry</div>
<div class="t" style="left:204.7px;top:737.1px;font-size:7px;line-height:9px;color:#a6aab2;transform-origin:center center;transform:translateX(-50%) scaleX(0.892);">Rhslonans</div>
<div class="t" style="left:306.5px;top:737.1px;font-size:7px;line-height:9px;color:#a6aab2;transform-origin:center center;transform:translateX(-50%) scaleX(0.932);">Socar soee</div>
<div class="t" style="left:412.5px;top:609.9px;font-size:7px;line-height:9px;color:#c3c6cd;transform-origin:center center;transform:translateX(-50%) scaleX(0.857);">Masg iojtay stloe oiset</div>
<div class="t" style="left:414.59px;top:631.25px;font-size:7.5px;line-height:9.5px;color:#8e929b;transform-origin:center center;transform:translateX(-50%) scaleX(0.8);letter-spacing:-0.033px;font-style:italic;">Diesndres</div>
<div class="t" style="left:415.94px;top:690.55px;font-size:12.5px;line-height:14.5px;color:#333846;transform:translateX(-50%);letter-spacing:1.484px;-webkit-text-stroke:0.25px #333846;">24%</div>
<div class="t" style="left:415.6px;top:737.1px;font-size:7px;line-height:9px;color:#7c818b;transform-origin:center center;transform:translateX(-50%) scaleX(0.832);">8- 86 sitsec</div>
<div class="t" style="left:475px;top:609.7px;font-size:8px;line-height:10px;color:#f4f5f7;font-weight:700;transform-origin:left center;transform:scaleX(0.859);">Ehiwon olpiecs</div>
<div class="t" style="left:769px;top:609.4px;font-size:8px;line-height:10px;color:#d0d3d9;transform-origin:left center;transform:scaleX(0.8);letter-spacing:-0.141px;">EBI7P</div>
<div class="t" style="left:493.7px;top:640.85px;font-size:7.5px;line-height:9.5px;color:#7c818b;transform-origin:left center;transform:scaleX(0.821);">Flresn Dtsnspaesl</div>
<div class="t" style="left:486.8px;top:643.85px;font-size:7.5px;line-height:9.5px;color:#565b66;transform-origin:right center;transform:translateX(-100%) scaleX(0.868);">3.006</div>
<div class="t" style="left:486.8px;top:666.85px;font-size:7.5px;line-height:9.5px;color:#565b66;transform-origin:right center;transform:translateX(-100%) scaleX(0.938);">2.08</div>
<div class="t" style="left:486.8px;top:688.45px;font-size:7.5px;line-height:9.5px;color:#565b66;transform:translateX(-100%);">1</div>
<div class="t" style="left:486.8px;top:711.25px;font-size:7.5px;line-height:9.5px;color:#565b66;transform:translateX(-100%);">0</div>
<div class="t" style="left:502.4px;top:669.45px;font-size:7.5px;line-height:9.5px;color:#565b66;transform-origin:center center;transform:translateX(-50%) scaleX(0.971);">2368</div>
<div class="t" style="left:545.7px;top:663.45px;font-size:7.5px;line-height:9.5px;color:#565b66;transform-origin:center center;transform:translateX(-50%) scaleX(0.899);">2068</div>
<div class="t" style="left:630px;top:663.45px;font-size:7.5px;line-height:9.5px;color:#565b66;transform-origin:center center;transform:translateX(-50%) scaleX(0.899);">2049</div>
<div class="t" style="left:673.1px;top:663.45px;font-size:7.5px;line-height:9.5px;color:#565b66;transform-origin:center center;transform:translateX(-50%) scaleX(0.851);">2008</div>
<div class="t" style="left:757.7px;top:671.25px;font-size:7.5px;line-height:9.5px;color:#565b66;font-weight:700;transform-origin:center center;transform:translateX(-50%) scaleX(0.932);">3.836</div>
<div class="t" style="left:503.4px;top:723.95px;font-size:6.5px;line-height:8.5px;color:#6e737d;transform-origin:center center;transform:translateX(-50%) scaleX(0.95);">Fowek</div>
<div class="t" style="left:545.2px;top:723.95px;font-size:6.5px;line-height:8.5px;color:#6e737d;transform-origin:center center;transform:translateX(-50%) scaleX(0.995);">Ecinook</div>
<div class="t" style="left:587.6px;top:723.95px;font-size:6.5px;line-height:8.5px;color:#6e737d;transform-origin:center center;transform:translateX(-50%) scaleX(0.993);">S3tooex</div>
<div class="t" style="left:630px;top:723.95px;font-size:6.5px;line-height:8.5px;color:#6e737d;transform-origin:center center;transform:translateX(-50%) scaleX(0.82);">S1oonoce</div>
<div class="t" style="left:672.9px;top:723.95px;font-size:6.5px;line-height:8.5px;color:#6e737d;transform-origin:center center;transform:translateX(-50%) scaleX(0.923);">S1onson</div>
<div class="t" style="left:715.9px;top:723.95px;font-size:6.5px;line-height:8.5px;color:#6e737d;transform-origin:center center;transform:translateX(-50%) scaleX(0.91);">S1ooooa</div>
<div class="t" style="left:757.9px;top:723.95px;font-size:6.5px;line-height:8.5px;color:#6e737d;transform-origin:center center;transform:translateX(-50%) scaleX(0.91);">S1ooona</div>
<div class="t" style="left:651.7px;top:778.25px;font-size:7.5px;line-height:9.5px;color:#7c818e;letter-spacing:0.241px;">Detottrostles</div>
<div class="t" style="left:722.7px;top:778.25px;font-size:7.5px;line-height:9.5px;color:#7c818e;transform-origin:left center;transform:scaleX(0.917);">Rewrpest /Inoaur panaxet</div>
</body>
</html>
